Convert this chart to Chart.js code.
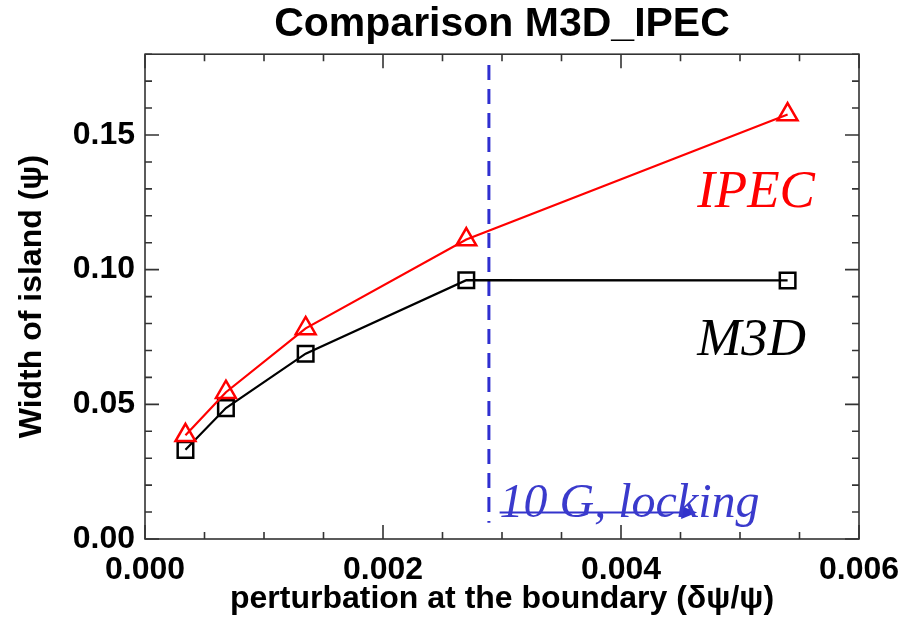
<!DOCTYPE html>
<html><head><meta charset="utf-8">
<script src="https://cdn.jsdelivr.net/npm/chart.js@4/dist/chart.umd.min.js"></script>
<style>html,body{margin:0;padding:0;background:#fff;}canvas{display:block;}</style>
</head><body>
<canvas id="c" width="916" height="625"></canvas>
<script>
// ---- data ----
const perturbation = [0.00034, 0.00068, 0.00135, 0.0027, 0.0054];
const ipecWidth    = [0.0385, 0.0545, 0.0782, 0.1112, 0.1576];
const m3dWidth     = [0.0331, 0.0486, 0.0688, 0.0961, 0.0960];
const xTickValues  = [0, 0.002, 0.004, 0.006];
const yTickValues  = [0, 0.05, 0.10, 0.15];
const xMinorStep   = 0.0005;
const yMinorStep   = 0.01;
const xRange       = [0, 0.006];
const yRange       = [0, 0.18];
const lockingX     = 0.00289;
const lockingYSpan = [0.006, 0.176];
const arrowXSpan   = [0.00298, 0.00464];
const arrowY       = 0.0098;
const seriesNames  = ['IPEC', 'M3D'];
const lockingText  = '10 G, locking';
const ipecLabelAt  = [0.00464, 0.1233];
const m3dLabelAt   = [0.00464, 0.0684];
const lockLabelAt  = [0.00298, 0.0083];

const tickFont  = {family: 'Liberation Sans, Arial, sans-serif', size: 32, weight: 'bold'};
const titleFont = {family: 'Liberation Sans, Arial, sans-serif', size: 32, weight: 'bold'};

const frameTicks = {
  id: 'frameTicks',
  afterDatasetsDraw(chart) {
    const {ctx, chartArea: a, scales: {x, y}} = chart;
    ctx.save();
    ctx.strokeStyle = '#333';
    ctx.lineWidth = 1.6;
    ctx.strokeRect(a.left, a.top, a.right - a.left, a.bottom - a.top);
    ctx.beginPath();
    const nx = Math.round((xRange[1] - xRange[0]) / xMinorStep);
    for (let i = 0; i <= nx; i++) {
      const v = xRange[0] + i * xMinorStep;
      const px = x.getPixelForValue(v);
      const major = xTickValues.some(t => Math.abs(t - v) < 1e-9);
      const len = major ? 14 : 7;
      ctx.moveTo(px, a.bottom); ctx.lineTo(px, a.bottom - len);
      ctx.moveTo(px, a.top); ctx.lineTo(px, a.top + len);
    }
    const ny = Math.round((yRange[1] - yRange[0]) / yMinorStep);
    for (let i = 0; i <= ny; i++) {
      const v = yRange[0] + i * yMinorStep;
      const py = y.getPixelForValue(v);
      const major = yTickValues.some(t => Math.abs(t - v) < 1e-9);
      const len = major ? 14 : 7;
      ctx.moveTo(a.left, py); ctx.lineTo(a.left + len, py);
      ctx.moveTo(a.right, py); ctx.lineTo(a.right - len, py);
    }
    ctx.stroke();
    ctx.restore();
  }
};

const annotations = {
  id: 'annotations',
  afterDatasetsDraw(chart) {
    const {ctx, scales: {x, y}} = chart;
    ctx.save();
    // arrow
    const x0 = x.getPixelForValue(arrowXSpan[0]);
    const x1 = x.getPixelForValue(arrowXSpan[1]);
    const ay = y.getPixelForValue(arrowY);
    ctx.strokeStyle = '#3333cc';
    ctx.fillStyle = '#3333cc';
    ctx.lineWidth = 2;
    ctx.beginPath(); ctx.moveTo(x0, ay); ctx.lineTo(x1 - 10, ay); ctx.stroke();
    ctx.beginPath(); ctx.moveTo(x1, ay); ctx.lineTo(x1 - 16, ay - 6.5); ctx.lineTo(x1 - 16, ay + 6.5); ctx.closePath(); ctx.fill();
    // labels
    ctx.textBaseline = 'alphabetic';
    ctx.textAlign = 'left';
    ctx.font = 'italic 53px "Liberation Serif", "Times New Roman", serif';
    ctx.fillStyle = '#ff0000';
    ctx.fillText(seriesNames[0], x.getPixelForValue(ipecLabelAt[0]), y.getPixelForValue(ipecLabelAt[1]));
    ctx.fillStyle = '#000000';
    ctx.fillText(seriesNames[1], x.getPixelForValue(m3dLabelAt[0]), y.getPixelForValue(m3dLabelAt[1]));
    ctx.font = 'italic 48px "Liberation Serif", "Times New Roman", serif';
    ctx.fillStyle = '#3a3acc';
    ctx.fillText(lockingText, x.getPixelForValue(lockLabelAt[0]), y.getPixelForValue(lockLabelAt[1]));
    ctx.restore();
  }
};

new Chart(document.getElementById('c'), {
  type: 'scatter',
  data: {
    datasets: [
      {
        label: seriesNames[0],
        data: perturbation.map((v, i) => ({x: v, y: ipecWidth[i]})),
        showLine: true,
        borderColor: '#ff0000',
        backgroundColor: 'rgba(0,0,0,0)',
        borderWidth: 2.2,
        pointStyle: 'triangle',
        pointRadius: 11.5,
        pointBorderWidth: 2.5,
        pointBorderColor: '#ff0000',
        pointBackgroundColor: 'rgba(0,0,0,0)'
      },
      {
        label: seriesNames[1],
        data: perturbation.map((v, i) => ({x: v, y: m3dWidth[i]})),
        showLine: true,
        borderColor: '#000000',
        backgroundColor: 'rgba(0,0,0,0)',
        borderWidth: 2.2,
        pointStyle: 'rect',
        pointRadius: 11,
        pointBorderWidth: 2.5,
        pointBorderColor: '#000000',
        pointBackgroundColor: 'rgba(0,0,0,0)'
      },
      {
        label: lockingText,
        data: [{x: lockingX, y: lockingYSpan[1]}, {x: lockingX, y: lockingYSpan[0]}],
        showLine: true,
        borderColor: '#2f2fd0',
        borderWidth: 3,
        borderDash: [15, 9],
        pointRadius: 0
      }
    ]
  },
  options: {
    responsive: false,
    animation: false,
    devicePixelRatio: 1,
    layout: {padding: {left: 0, right: 57, top: 0, bottom: 0}},
    plugins: {
      legend: {display: false},
      tooltip: {enabled: false},
      title: {
        display: true,
        text: 'Comparison M3D_IPEC',
        fullSize: false,
        color: '#000',
        font: {family: 'Liberation Sans, Arial, sans-serif', size: 41, weight: 'bold'},
        padding: {top: 0, bottom: 5}
      }
    },
    scales: {
      x: {
        type: 'linear',
        min: xRange[0], max: xRange[1],
        afterBuildTicks: s => { s.ticks = xTickValues.map(v => ({value: v})); },
        ticks: {callback: v => Number(v).toFixed(3), font: tickFont, color: '#000', padding: 12, maxRotation: 0, autoSkip: false},
        grid: {display: false, drawTicks: false},
        border: {display: false},
        title: {display: true, text: 'perturbation at the boundary (δψ/ψ)', font: titleFont, color: '#000', padding: {top: 0, bottom: 7}},
        afterFit: s => { s.height = 86; s.paddingLeft = 0; s.paddingRight = 0; }
      },
      y: {
        type: 'linear',
        min: yRange[0], max: yRange[1],
        afterBuildTicks: s => { s.ticks = yTickValues.map(v => ({value: v})); },
        ticks: {callback: v => Number(v).toFixed(2), font: tickFont, color: '#000', padding: 10, autoSkip: false},
        grid: {display: false, drawTicks: false},
        border: {display: false},
        title: {display: true, text: 'Width of island (ψ)', font: titleFont, color: '#000', padding: {top: 13, bottom: 0}},
        afterFit: s => { s.width = 145; s.paddingTop = 0; s.paddingBottom = 0; }
      }
    }
  },
  plugins: [frameTicks, annotations]
});
</script>
</body></html>
